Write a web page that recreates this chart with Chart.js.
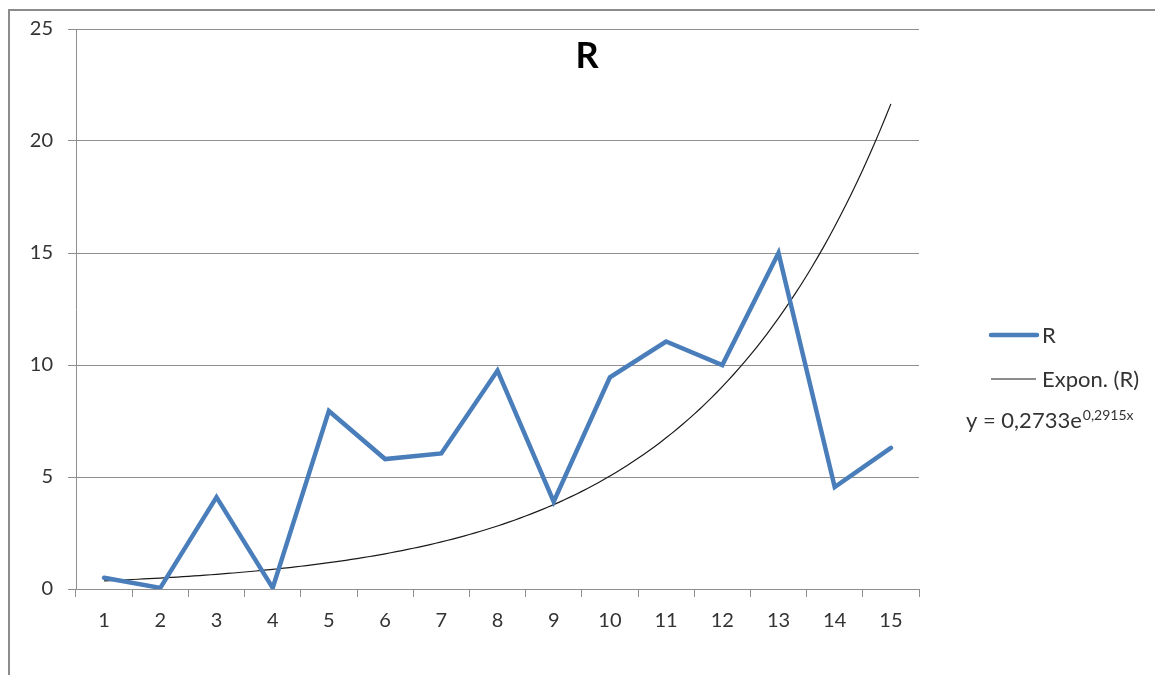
<!DOCTYPE html>
<html>
<head>
<meta charset="utf-8">
<script src="https://cdn.jsdelivr.net/npm/chart.js@4.4.1/dist/chart.umd.min.js"></script>
<style>
  html, body { margin: 0; padding: 0; background: #fff; overflow: hidden; }
  #wrap { position: relative; width: 1155px; height: 675px; }
  #frame {
    position: absolute; left: 8px; top: 9px; width: 1200px; height: 720px;
    border-left: 2px solid #8c8c8c; border-top: 2px solid #8c8c8c; box-sizing: border-box;
  }
  #c { position: absolute; left: 0; top: 0; }
</style>
</head>
<body>
<div id="wrap">
  <div id="frame"></div>
  <canvas id="c" width="1155" height="675"></canvas>
</div>
<script>
// Categories (x labels) and the R series
const categories = ['1', '2', '3', '4', '5', '6', '7', '8', '9', '10', '11', '12', '13', '14', '15'];
const rValues = [0.5, 0.05, 4.1, 0.05, 7.95, 5.8, 6.05, 9.75, 3.9, 9.45, 11.05, 10.0, 15.0, 4.55, 6.3];
const yTicks = [0, 5, 10, 15, 20, 25];

// Exponential trend line y = a * e^(b x), coefficients as printed on the chart
const trendA = 0.2733;
const trendB = 0.2915;
const trendText = 'y = 0,2733e';
const trendExpText = '0,2915x';

const chartTitle = 'R';
const seriesName = 'R';
const trendName = 'Expon. (R)';

const FONT = 'Lato, "Open Sans", sans-serif';
const TEXT = '#333333';
const GRID = '#8f8f8f';

// Sample the fitted curve across the category range
const trendPoints = [];
for (let i = 0; i <= 140; i++) {
  const x = 1 + i / 10;
  trendPoints.push({ x: x, y: trendA * Math.exp(trendB * x) });
}

// Title, legend and equation text drawn in the free space
const decor = {
  id: 'decor',
  afterDraw(chart) {
    const ctx = chart.ctx;
    ctx.save();
    ctx.fillStyle = '#000';
    ctx.textAlign = 'center';
    ctx.textBaseline = 'alphabetic';
    ctx.font = 'bold 36px ' + FONT;
    ctx.fillText(chartTitle, 587, 68);

    const ds = chart.data.datasets;
    const rows = [
      { d: ds[0], y: 335, base: 343, end: 1037 },
      { d: ds[1], y: 379, base: 387, end: 1036 }
    ];
    ctx.textAlign = 'left';
    ctx.font = '22px ' + FONT;
    rows.forEach(r => {
      ctx.beginPath();
      ctx.strokeStyle = r.d.borderColor;
      ctx.lineWidth = r.d.borderWidth;
      ctx.lineCap = r.d.borderCapStyle || 'butt';
      ctx.moveTo(991, r.y);
      ctx.lineTo(r.end, r.y);
      ctx.stroke();
      ctx.fillStyle = TEXT;
      ctx.fillText(r.d.label, 1042, r.base);
    });

    ctx.font = '22px ' + FONT;
    ctx.fillStyle = TEXT;
    ctx.fillText(trendText, 966, 428);
    const w = ctx.measureText(trendText).width;
    ctx.font = '14px ' + FONT;
    ctx.fillText(trendExpText, 966 + w + 1, 420);
    ctx.restore();
  }
};

new Chart(document.getElementById('c'), {
  type: 'line',
  data: {
    labels: categories,
    datasets: [
      {
        label: seriesName,
        data: rValues,
        xAxisID: 'x',
        borderColor: '#4a7ebb',
        borderWidth: 4.5,
        borderCapStyle: 'round',
        borderJoinStyle: 'miter',
        pointRadius: 0,
        tension: 0,
        fill: false
      },
      {
        label: trendName,
        data: trendPoints,
        xAxisID: 'xt',
        borderColor: '#1a1a1a',
        borderWidth: 1.2,
        pointRadius: 0,
        tension: 0,
        fill: false
      }
    ]
  },
  options: {
    responsive: false,
    animation: false,
    events: [],
    layout: { padding: { top: 29, right: 236, left: 0, bottom: 0 } },
    plugins: { legend: { display: false }, title: { display: false }, tooltip: { enabled: false } },
    scales: {
      x: {
        type: 'category',
        offset: true,
        border: { display: true, color: GRID, width: 1 },
        grid: { offset: true, drawOnChartArea: false, drawTicks: true, tickLength: 8, color: GRID },
        ticks: { color: TEXT, font: { family: FONT, size: 20 }, padding: 12, maxRotation: 0, autoSkip: false },
        afterFit(scale) { scale.height = 86; }
      },
      xt: {
        type: 'linear',
        display: false,
        min: 0.5,
        max: 15.5
      },
      y: {
        type: 'linear',
        min: 0,
        max: 25,
        border: { display: true, color: GRID, width: 1 },
        grid: { color: GRID, tickLength: 8, drawTicks: true },
        ticks: { color: TEXT, font: { family: FONT, size: 20 }, padding: 15 },
        afterBuildTicks(scale) { scale.ticks = yTicks.map(v => ({ value: v })); },
        afterFit(scale) { scale.width = 76; }
      }
    }
  },
  plugins: [decor]
});
</script>
</body>
</html>
